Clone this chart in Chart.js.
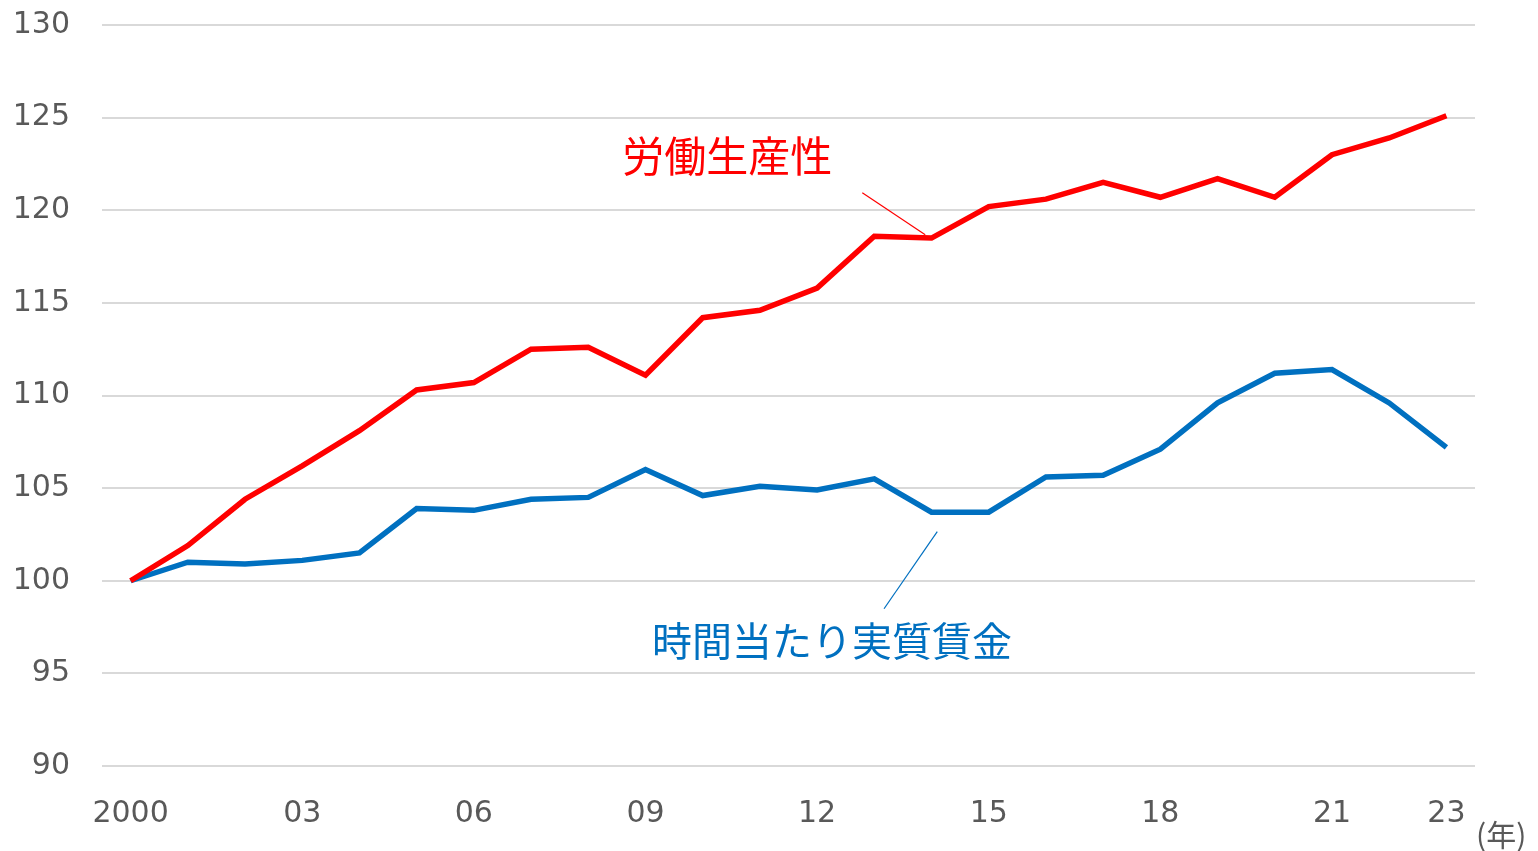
<!DOCTYPE html>
<html>
<head>
<meta charset="utf-8">
<script src="https://cdn.jsdelivr.net/npm/chart.js@4"></script>
<style>
html,body{margin:0;padding:0;background:#fff;}
#wrap{position:relative;width:1538px;height:851px;}
canvas{display:block;}
</style>
</head>
<body>
<div id="wrap"><canvas id="c" width="1538" height="851"></canvas></div>
<script>
const years = ["2000","01","02","03","04","05","06","07","08","09","10","11","12","13","14","15","16","17","18","19","20","21","22","23"];
const shownYears = ["2000","03","06","09","12","15","18","21","23"];
const productivity = [100,101.9,104.4,106.2,108.1,110.3,110.7,112.5,112.6,111.1,114.2,114.6,115.8,118.6,118.5,120.2,120.6,121.5,120.7,121.7,120.7,123.0,123.9,125.1];
const realWage = [100,101.0,100.9,101.1,101.5,103.9,103.8,104.4,104.5,106.0,104.6,105.1,104.9,105.5,103.7,103.7,105.6,105.7,107.1,109.6,111.2,111.4,109.6,107.2];
const yTicks = [90,95,100,105,110,115,120,125,130];
const seriesNames = ["労働生産性","時間当たり実質賃金"];
const seriesColors = ["#FF0000","#0070C0"];
const unitLabel = "(年)";
// annotation anchors in data coordinates [categoryIndex, value]
const annotations = [
  {text: seriesNames[0], color: seriesColors[0], size:42, textAt:[10.43,122.9], line:[[12.79,120.95],[13.89,118.68]]},
  {text: seriesNames[1], color: seriesColors[1], size:40, textAt:[12.26,96.76], line:[[14.1,102.65],[13.17,98.49]]}
];

const tickFont = {family:"'DejaVu Sans', Verdana, sans-serif", size:30};
const jpFont = "'Noto Sans CJK JP', sans-serif";

const annotPlugin = {
  id:'annot',
  afterDatasetsDraw(chart){
    const ctx = chart.ctx, xs = chart.scales.x, ys = chart.scales.y;
    const px = i => xs.getPixelForDecimal((i+0.5)/years.length);
    ctx.save();
    annotations.forEach(a=>{
      ctx.strokeStyle = a.color; ctx.lineWidth = 1.2;
      ctx.beginPath();
      ctx.moveTo(px(a.line[0][0]), ys.getPixelForValue(a.line[0][1]));
      ctx.lineTo(px(a.line[1][0]), ys.getPixelForValue(a.line[1][1]));
      ctx.stroke();
      ctx.fillStyle = a.color;
      ctx.font = a.size + "px " + jpFont;
      ctx.textAlign = "center"; ctx.textBaseline = "middle";
      ctx.fillText(a.text, px(a.textAt[0]), ys.getPixelForValue(a.textAt[1]));
    });
    ctx.fillStyle = "#595959";
    ctx.font = "30px " + jpFont;
    ctx.textAlign = "left"; ctx.textBaseline = "middle";
    ctx.fillText(unitLabel, 1476, 835);
    ctx.restore();
  }
};

new Chart(document.getElementById('c'), {
  type:'line',
  data:{
    labels: years,
    datasets:[
      {label:seriesNames[0], data:productivity, borderColor:seriesColors[0], borderWidth:5.5, pointRadius:0, tension:0, fill:false},
      {label:seriesNames[1], data:realWage, borderColor:seriesColors[1], borderWidth:5.5, pointRadius:0, tension:0, fill:false}
    ]
  },
  options:{
    responsive:false,
    animation:false,
    devicePixelRatio:1,
    layout:{padding:{top:25, right:63, bottom:0, left:0}},
    plugins:{legend:{display:false}, tooltip:{enabled:false}},
    scales:{
      x:{
        offset:true,
        grid:{display:false, drawTicks:false},
        border:{display:false},
        afterFit:(s)=>{ s.height = 85; s.paddingLeft = 0; s.paddingRight = 0; },
        ticks:{
          autoSkip:false, maxRotation:0, padding:30, color:"#595959", font:tickFont,
          callback:(v,i)=> shownYears.includes(years[i]) ? years[i] : ''
        }
      },
      y:{
        min:yTicks[0], max:yTicks[yTicks.length-1],
        afterBuildTicks:(s)=>{ s.ticks = yTicks.map(v=>({value:v})); },
        afterFit:(s)=>{ s.width = 102; s.paddingTop = 0; s.paddingBottom = 0; },
        grid:{color:"#D9D9D9", lineWidth:2, drawTicks:false},
        border:{display:false},
        ticks:{padding:32, color:"#595959", font:tickFont}
      }
    }
  },
  plugins:[annotPlugin]
});
</script>
</body>
</html>
